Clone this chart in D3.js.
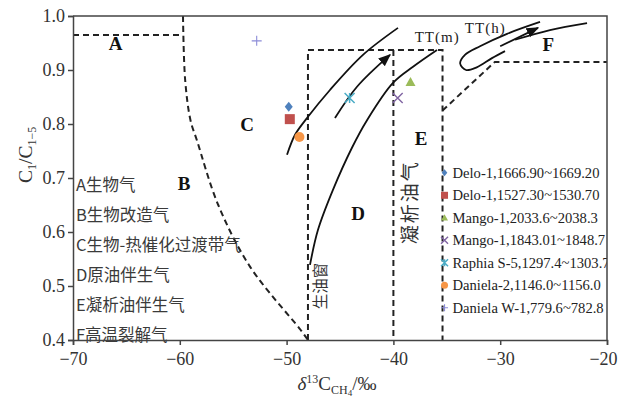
<!DOCTYPE html>
<html>
<head>
<meta charset="utf-8">
<script src="https://cdn.jsdelivr.net/npm/d3@7"></script>
<style>
  body { margin: 0; background: #fff; }
  text { font-family: "Liberation Serif", "DejaVu Serif", serif; }
  .cjk { font-family: "Noto Sans CJK SC", sans-serif; }
</style>
</head>
<body>
<script>
// chart data
var seriesNames = ["Delo-1,1666.90~1669.20", "Delo-1,1527.30~1530.70", "Mango-1,2033.6~2038.3",
  "Mango-1,1843.01~1848.7", "Raphia S-5,1297.4~1303.7", "Daniela-2,1146.0~1156.0", "Daniela W-1,779.6~782.8"];
var seriesX = [-49.8, -49.7, -38.4, -39.6, -44.1, -48.8, -52.8];
var seriesY = [0.832, 0.809, 0.878, 0.848, 0.848, 0.776, 0.954];
var seriesColors = ["#4f81bd", "#c0504d", "#9bbb59", "#8064a2", "#4bacc6", "#f79646", "#8c8cd8"];
var seriesShapes = ["diamond", "square", "triangle", "x", "star", "circle", "plus"];

var xTicks = [-70, -60, -50, -40, -30, -20];
var yTicks = [0.4, 0.5, 0.6, 0.7, 0.8, 0.9, 1.0];

var zoneNotes = ["A生物气", "B生物改造气", "C生物-热催化过渡带气", "D原油伴生气", "E凝析油伴生气", "F高温裂解气"];

// zone boundaries (dashed)
var boundA = [[-70, 0.965], [-59.7, 0.965]];
var boundB = [[-59.7, 1.0], [-59.5, 0.882], [-59.0, 0.807], [-58.4, 0.77], [-56.4, 0.65], [-53.4, 0.535], [-48.7, 0.419], [-48.0, 0.4]];
var boundD = [[-48.0, 0.4], [-48.0, 0.937], [-35.4, 0.937], [-35.4, 0.4]];
var boundDE = [[-40.0, 0.937], [-40.0, 0.4]];
var boundEF = [[-35.4, 0.825], [-30.5, 0.915], [-20, 0.915]];

// trend curves (solid)
var curve1 = [[-49.96, 0.743], [-49.21, 0.78], [-48.09, 0.811], [-45.94, 0.863], [-42.85, 0.928], [-39.57, 0.978]];
var curve2 = [[-45.47, 0.811], [-43.41, 0.869], [-40.32, 0.928]];
var curve3 = [[-47.81, 0.539], [-47.06, 0.604], [-45.66, 0.678], [-43.88, 0.756], [-42.47, 0.807], [-40.04, 0.876], [-38.16, 0.906], [-35.92, 0.937]];
var hairpin = [[-26.27, 0.989], [-29.36, 0.967], [-31.89, 0.944], [-33.3, 0.928], [-33.75, 0.912], [-33.2, 0.9], [-32.2, 0.905], [-30.77, 0.922], [-29.55, 0.935]];
var arrowH = [[-30.0, 0.944], [-26.46, 0.978]];
var lineH = [[-21.87, 0.987], [-25.34, 0.974], [-28.61, 0.956]];

var margin = {top: 16, right: 11, bottom: 61, left: 73},
    width = 618 - margin.left - margin.right,
    height = 401 - margin.top - margin.bottom;

var x = d3.scaleLinear().domain([-70, -20]).range([0, width]);
var y = d3.scaleLinear().domain([0.4, 1.0]).range([height, 0]);

var svgRoot = d3.select("body").append("svg")
    .attr("width", 618)
    .attr("height", 401);

var defs = svgRoot.append("defs");
defs.append("clipPath").attr("id", "plotclip")
  .append("rect").attr("width", width).attr("height", height);
defs.append("marker")
    .attr("id", "arrow")
    .attr("viewBox", "0 0 10 10")
    .attr("refX", 9).attr("refY", 5)
    .attr("markerWidth", 7).attr("markerHeight", 7)
    .attr("orient", "auto")
  .append("path").attr("d", "M0,1 L10,5 L0,9 Z").attr("fill", "#111");

var svg = svgRoot.append("g")
    .attr("transform", "translate(" + margin.left + "," + margin.top + ")");

var line = d3.line().x(function(d) { return x(d[0]); }).y(function(d) { return y(d[1]); });
var smooth = d3.line().curve(d3.curveCatmullRom.alpha(0.5))
    .x(function(d) { return x(d[0]); }).y(function(d) { return y(d[1]); });

var plot = svg.append("g").attr("clip-path", "url(#plotclip)");

// dashed boundaries
[boundA, boundD, boundDE, boundEF].forEach(function(b) {
  plot.append("path").attr("d", line(b))
    .attr("fill", "none").attr("stroke", "#222").attr("stroke-width", 2)
    .attr("stroke-dasharray", "6,4");
});
plot.append("path").attr("d", smooth(boundB))
  .attr("fill", "none").attr("stroke", "#222").attr("stroke-width", 2)
  .attr("stroke-dasharray", "6,4");

// solid curves
[curve1, curve3, hairpin, lineH].forEach(function(c) {
  plot.append("path").attr("d", smooth(c))
    .attr("fill", "none").attr("stroke", "#111").attr("stroke-width", 1.8);
});
[curve2, arrowH].forEach(function(c) {
  plot.append("path").attr("d", smooth(c))
    .attr("fill", "none").attr("stroke", "#111").attr("stroke-width", 1.8)
    .attr("marker-end", "url(#arrow)");
});

// marker drawing
function drawMarker(g, shape, color, s) {
  var h = s / 2;
  if (shape == "diamond") {
    g.append("path").attr("d", "M0," + (-h) + "L" + (h * 0.8) + ",0L0," + h + "L" + (-h * 0.8) + ",0Z").attr("fill", color);
  } else if (shape == "square") {
    g.append("rect").attr("x", -h).attr("y", -h).attr("width", s).attr("height", s).attr("fill", color);
  } else if (shape == "triangle") {
    g.append("path").attr("d", "M0," + (-h) + "L" + h + "," + (h * 0.8) + "L" + (-h) + "," + (h * 0.8) + "Z").attr("fill", color);
  } else if (shape == "circle") {
    g.append("circle").attr("r", h).attr("fill", color);
  } else if (shape == "x") {
    g.append("path").attr("d", "M" + (-h) + "," + (-h) + "L" + h + "," + h + "M" + h + "," + (-h) + "L" + (-h) + "," + h)
      .attr("stroke", color).attr("stroke-width", 1.4);
  } else if (shape == "plus") {
    g.append("path").attr("d", "M" + (-h) + ",0H" + h + "M0," + (-h) + "V" + h)
      .attr("stroke", color).attr("stroke-width", 1.1);
  } else if (shape == "star") {
    g.append("path").attr("d", "M" + (-h) + "," + (-h) + "L" + h + "," + h + "M" + h + "," + (-h) + "L" + (-h) + "," + h + "M0," + (-h) + "V" + h)
      .attr("stroke", color).attr("stroke-width", 1.5);
  }
}

// data points
seriesNames.forEach(function(n, i) {
  var g = plot.append("g")
    .attr("transform", "translate(" + x(seriesX[i]) + "," + y(seriesY[i]) + ")");
  drawMarker(g, seriesShapes[i], seriesColors[i], 10);
});

// legend
var legend = plot.append("g").attr("transform", "translate(" + (x(-35.4) + 2) + "," + (y(0.68) - 16) + ")");
seriesNames.forEach(function(n, i) {
  var row = legend.append("g").attr("transform", "translate(0," + (i * 22.5) + ")");
  drawMarker(row.append("g"), seriesShapes[i], seriesColors[i], 7);
  row.append("text").attr("x", 8).attr("y", 5)
    .attr("font-size", 14.6).attr("fill", "#222").text(n);
});

// zone letters
var zoneLetters = [["A", -66, 0.95], ["B", -59.6, 0.69], ["C", -53.7, 0.8], ["D", -43.3, 0.634], ["E", -37.4, 0.774], ["F", -25.5, 0.947]];
zoneLetters.forEach(function(z) {
  svg.append("text").attr("x", x(z[1])).attr("y", y(z[2]))
    .attr("text-anchor", "middle").attr("dy", "0.35em")
    .attr("font-size", 19).attr("font-weight", "bold").attr("fill", "#111").text(z[0]);
});
svg.append("text").attr("x", x(-35.9)).attr("y", y(0.951)).attr("text-anchor", "middle")
  .attr("font-size", 15).attr("fill", "#222").attr("letter-spacing", 1).text("TT(m)");
svg.append("text").attr("x", x(-31.4)).attr("y", y(0.968)).attr("text-anchor", "middle")
  .attr("font-size", 15).attr("fill", "#222").attr("letter-spacing", 1).text("TT(h)");

// rotated notes
svg.append("text").attr("class", "cjk")
  .attr("transform", "translate(" + x(-46.8) + "," + y(0.5) + ") rotate(-90)")
  .attr("text-anchor", "middle").attr("dy", "0.35em")
  .attr("font-size", 15.5).attr("fill", "#333").text("生油窗");
svg.append("text").attr("class", "cjk")
  .attr("transform", "translate(" + x(-38.45) + "," + y(0.655) + ") rotate(-90)")
  .attr("text-anchor", "middle").attr("dy", "0.35em")
  .attr("font-size", 19).attr("letter-spacing", 2).attr("fill", "#333").text("凝析油气");

// zone descriptions
zoneNotes.forEach(function(n, i) {
  svg.append("text").attr("class", "cjk")
    .attr("x", 3).attr("y", y(0.687 - i * 0.0555))
    .attr("dy", "0.35em")
    .attr("font-size", 16.5).attr("fill", "#3a3a3a").text(n);
});

// axes
svg.append("g")
    .attr("transform", "translate(0," + height + ")")
    .call(d3.axisBottom(x).tickValues(xTicks).tickSize(5).tickPadding(7).tickFormat(d3.format("d")))
    .call(function(g) {
      g.selectAll("text").attr("font-size", 18).attr("fill", "#333").style("font-family", "Liberation Serif");
      g.selectAll("line,path").attr("stroke", "#444").attr("stroke-width", 1.5);
      g.selectAll(".tick:last-of-type text").attr("dx", -4);
    });
svg.append("g")
    .call(d3.axisLeft(y).tickValues(yTicks).tickSize(5).tickPadding(3).tickFormat(d3.format(".1f")))
    .call(function(g) {
      g.selectAll("text").attr("font-size", 18).attr("fill", "#333").style("font-family", "Liberation Serif");
      g.selectAll("line,path").attr("stroke", "#444").attr("stroke-width", 1.5);
    });
// top and right frame
svg.append("path")
  .attr("d", "M0,0 H" + width + " V" + height)
  .attr("fill", "none").attr("stroke", "#444").attr("stroke-width", 1.5);

// axis titles
var ylab = svgRoot.append("text")
  .attr("transform", "translate(32,183) rotate(-90)")
  .attr("text-anchor", "start").attr("font-size", 19.5).attr("fill", "#333");
ylab.append("tspan").text("C");
ylab.append("tspan").attr("font-size", 12).attr("dy", 4).text("1");
ylab.append("tspan").attr("dy", -4).text("/C");
ylab.append("tspan").attr("font-size", 12).attr("dy", 4).text("1−5");

var xlab = svgRoot.append("text")
  .attr("x", 337).attr("y", 390)
  .attr("text-anchor", "middle").attr("font-size", 19).attr("fill", "#333");
xlab.append("tspan").attr("font-style", "italic").text("δ");
xlab.append("tspan").attr("font-size", 12).attr("dy", -7).text("13");
xlab.append("tspan").attr("dy", 7).text("C");
xlab.append("tspan").attr("font-size", 12).attr("dy", 4).text("CH");
xlab.append("tspan").attr("font-size", 9).attr("dy", 2).text("4");
xlab.append("tspan").attr("dy", -6).text("/‰");
</script>
</body>
</html>
